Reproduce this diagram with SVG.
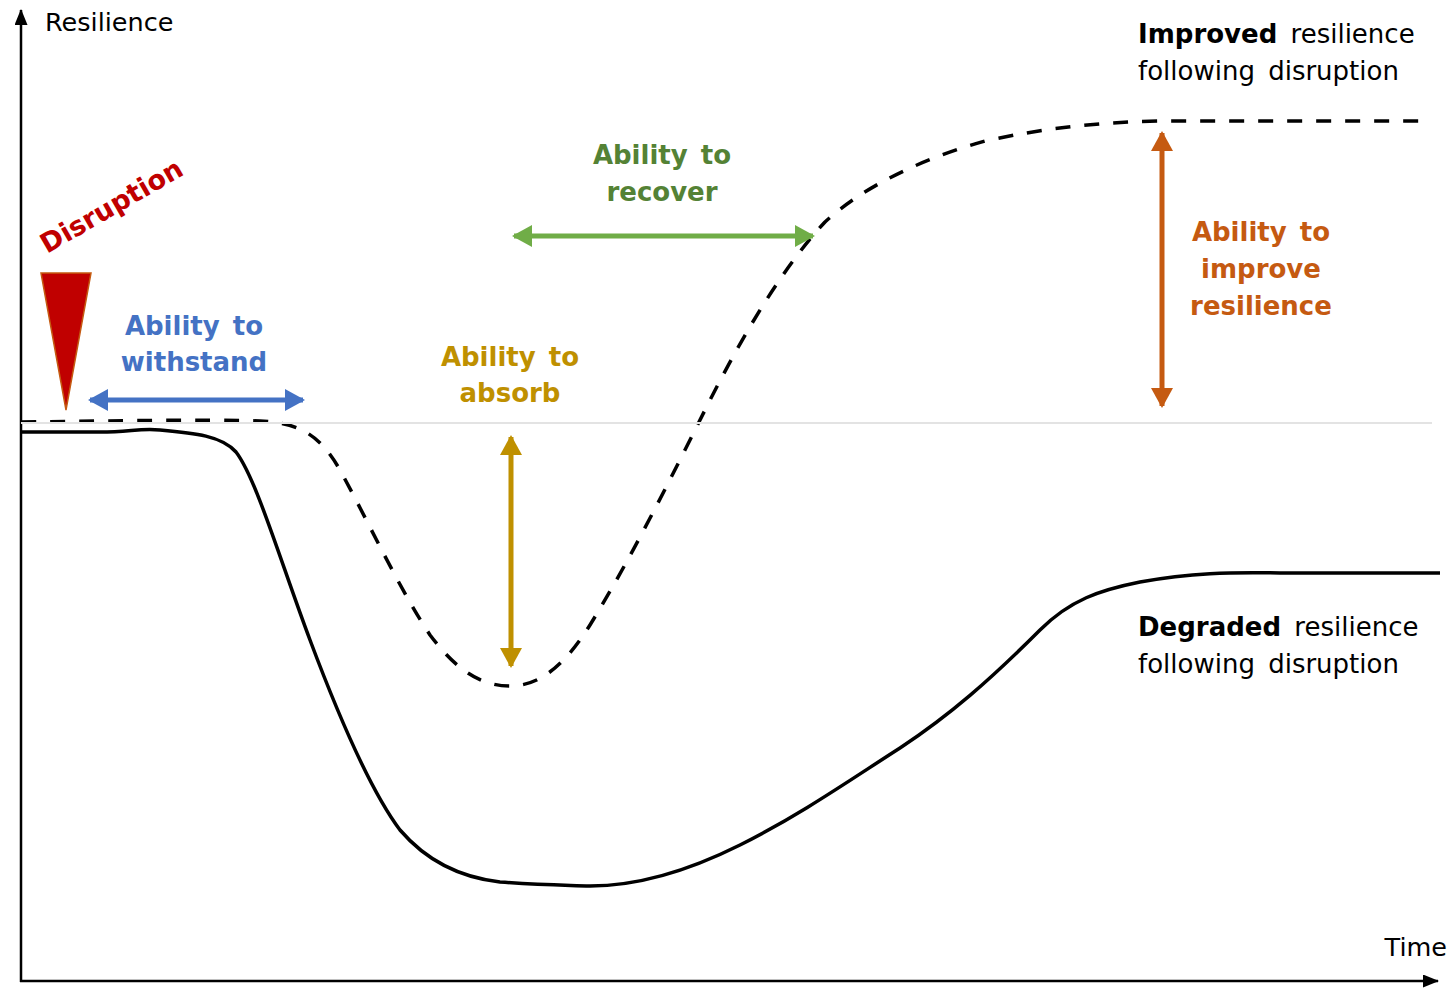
<svg xmlns="http://www.w3.org/2000/svg" width="1453" height="990" viewBox="0 0 1453 990">
<style>
text{font-family:"DejaVu Sans","Liberation Sans",sans-serif}
.reg{font-size:25.5px;fill:#000}
.side{font-size:26px;fill:#000;word-spacing:5px}
.lbl{font-size:26px;font-weight:bold;text-anchor:middle;word-spacing:4px}
.curve{fill:none;stroke:#000;stroke-width:3.5}
.dash{stroke-dasharray:15 14}
</style>
<defs>
<marker id="axh" markerWidth="16" markerHeight="13" refX="15" refY="6.5" orient="auto" markerUnits="userSpaceOnUse"><path d="M0,0 L16,6.5 L0,13 Z" fill="#000"/></marker>
<marker id="hb" markerWidth="20" markerHeight="22" refX="18" refY="11" orient="auto-start-reverse" markerUnits="userSpaceOnUse"><path d="M0,0 L20,11 L0,22 Z" fill="#4472c4"/></marker>
<marker id="hy" markerWidth="20" markerHeight="22" refX="18" refY="11" orient="auto-start-reverse" markerUnits="userSpaceOnUse"><path d="M0,0 L20,11 L0,22 Z" fill="#bf9000"/></marker>
<marker id="hg" markerWidth="20" markerHeight="22" refX="18" refY="11" orient="auto-start-reverse" markerUnits="userSpaceOnUse"><path d="M0,0 L20,11 L0,22 Z" fill="#70ad47"/></marker>
<marker id="ho" markerWidth="20" markerHeight="22" refX="18" refY="11" orient="auto-start-reverse" markerUnits="userSpaceOnUse"><path d="M0,0 L20,11 L0,22 Z" fill="#c55a11"/></marker>
</defs>

<g id="axes">
<line x1="21" y1="982" x2="21" y2="10" stroke="#000" stroke-width="2.5" marker-end="url(#axh)"/>
<line x1="20" y1="981" x2="1438" y2="981" stroke="#000" stroke-width="2.5" marker-end="url(#axh)"/>
<text class="reg" x="45" y="31">Resilience</text>
<text class="reg" x="1447" y="956" text-anchor="end">Time</text>
</g>

<g id="connectors">
<path id="improved-curve" class="curve dash" d="M21,422 C120,421 200,419 260,421 C300,423 320,435 340,470 C370,525 400,590 430,635 C460,675 485,686 510,686 C540,686 565,665 590,625 C630,560 670,480 705,410 C745,330 785,265 825,222 C865,185 925,158 985,141 C1045,128 1100,122 1160,121 L1430,121"/>
<path id="degraded-curve" class="curve" d="M21,432 L100,432 C130,432 140,428 160,430 C195,433 222,436 236,452 C256,478 280,560 310,640 C340,720 370,790 400,830 C430,865 465,878 500,882 C540,885 560,885 590,886 C640,886 690,870 740,845 C800,815 850,780 900,748 C950,715 990,680 1040,630 C1070,600 1100,590 1140,582 C1190,573 1230,572 1280,573 L1440,573"/>
<line id="baseline" x1="21" y1="423" x2="1432" y2="423" stroke="#e3e3e3" stroke-width="2"/>
<line id="withstand-arrow" x1="90" y1="400" x2="303" y2="400" stroke="#4472c4" stroke-width="5" marker-start="url(#hb)" marker-end="url(#hb)"/>
<line id="absorb-arrow" x1="511" y1="437" x2="511" y2="666" stroke="#bf9000" stroke-width="5" marker-start="url(#hy)" marker-end="url(#hy)"/>
<line id="recover-arrow" x1="514" y1="236" x2="813" y2="236" stroke="#70ad47" stroke-width="5" marker-start="url(#hg)" marker-end="url(#hg)"/>
<line id="improve-arrow" x1="1162" y1="133" x2="1162" y2="406" stroke="#c55a11" stroke-width="5" marker-start="url(#ho)" marker-end="url(#ho)"/>
</g>

<g id="disruption">
<polygon points="41,273 91,273 66,410" fill="#c00000" stroke="#c55a11" stroke-width="1.5"/>
<text transform="translate(47,254) rotate(-30)" font-size="27px" font-weight="bold" fill="#c00000">Disruption</text>
</g>

<g id="withstand">
<text class="lbl" fill="#4472c4"><tspan x="194" y="335">Ability to</tspan><tspan x="194" y="371" word-spacing="0">withstand</tspan></text>
</g>

<g id="absorb">
<text class="lbl" fill="#bf9000"><tspan x="510" y="366">Ability to</tspan><tspan x="510" y="402">absorb</tspan></text>
</g>

<g id="recover">
<text class="lbl" fill="#548235"><tspan x="662" y="164">Ability to</tspan><tspan x="662" y="201">recover</tspan></text>
</g>

<g id="improve">
<text class="lbl" fill="#c55a11"><tspan x="1261" y="241">Ability to</tspan><tspan x="1261" y="278">improve</tspan><tspan x="1261" y="315">resilience</tspan></text>
</g>

<g id="improved-label">
<text class="side"><tspan x="1138" y="43"><tspan font-weight="bold">Improved</tspan> resilience</tspan><tspan x="1138" y="80">following disruption</tspan></text>
</g>

<g id="degraded-label">
<text class="side"><tspan x="1138" y="636"><tspan font-weight="bold">Degraded</tspan> resilience</tspan><tspan x="1138" y="673">following disruption</tspan></text>
</g>
</svg>
